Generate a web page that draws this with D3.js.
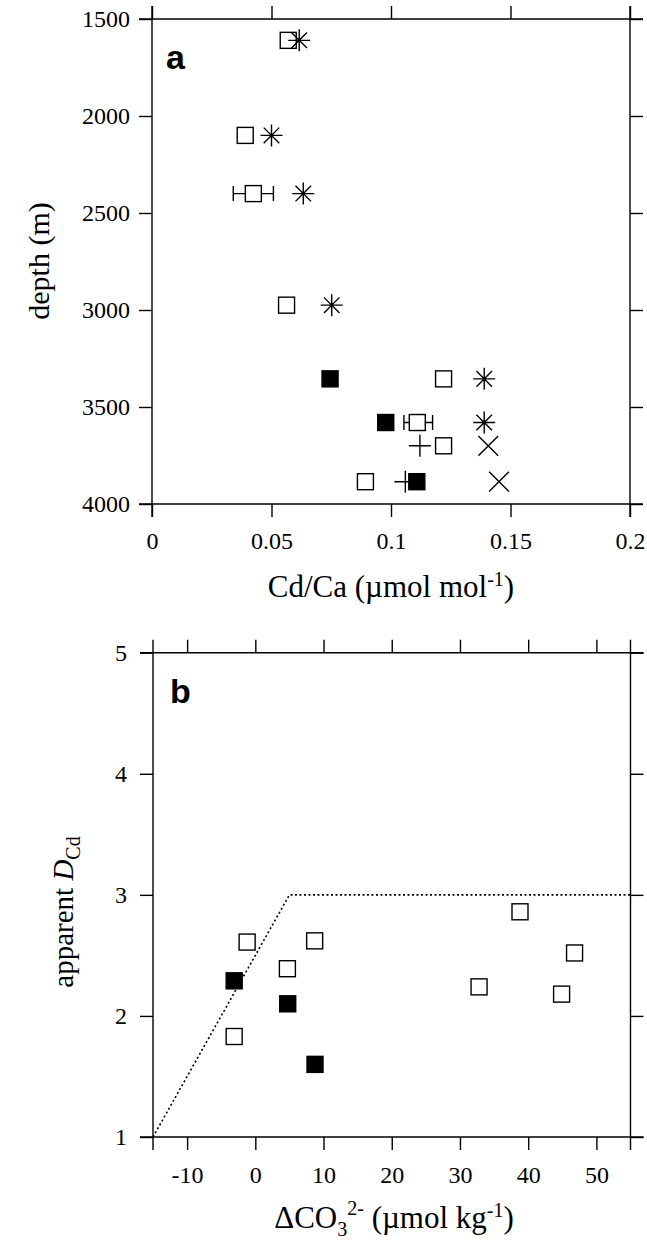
<html>
<head>
<meta charset="utf-8">
<script src="https://d3js.org/d3.v7.min.js"></script>
<style>
  body { margin:0; background:#fff; }
  text { font-family:"Liberation Serif","Times New Roman",serif; fill:#000; }
  .tick text { font-family:"Liberation Serif","Times New Roman",serif !important; }
</style>
</head>
<body>
<svg width="647" height="1241"></svg>
<script>
// ---- panel a : Cd/Ca vs depth ----
var aXTicks = [0, 0.05, 0.1, 0.15, 0.2];
var aXLabels = ["0", "0.05", "0.1", "0.15", "0.2"];
var aYTicks = [1500, 2000, 2500, 3000, 3500, 4000];
var aOpen = [[0.057,1610],[0.039,2100],[0.0424,2400],[0.0563,2975],[0.122,3355],[0.111,3580],[0.122,3700],[0.0893,3885]];
var aOpenErr = [[0.034,0.0508,2400],[0.1054,0.1174,3580]];
var aFilled = [[0.0745,3355],[0.0978,3580],[0.1108,3885]];
var aStar = [[0.0616,1610],[0.050,2100],[0.0633,2400],[0.0752,2975],[0.139,3355],[0.139,3580]];
var aCross = [[0.1407,3700],[0.1452,3885]];
var aPlus = [[0.1121,3700],[0.106,3885]];

// ---- panel b : apparent D vs delta CO3 ----
var bXTicks = [-10, 0, 10, 20, 30, 40, 50];
var bYTicks = [1, 2, 3, 4, 5];
var bOpen = [[-1.2,2.61],[8.7,2.62],[4.7,2.39],[-3.1,1.83],[38.8,2.86],[46.8,2.52],[32.8,2.24],[44.9,2.18]];
var bFilled = [[-3.1,2.29],[4.75,2.10],[8.75,1.60]];
var bLine = [[-15,1],[5,3],[55,3]];

var svg = d3.select("svg");
var TK = 13;
var SERIF = "Liberation Serif, Times New Roman, serif";
var plain = d => String(d);   // hyphen minus, as in the original

function frame(g, x0, x1, y0, y1) {
  var lines = [[x0-TK,y0,x1+TK,y0],[x0-TK,y1,x1+TK,y1],[x0,y0-TK,x0,y1+TK],[x1,y0-TK,x1,y1+TK]];
  g.selectAll("line.fr").data(lines).enter().append("line")
    .attr("x1", d => d[0]).attr("y1", d => d[1]).attr("x2", d => d[2]).attr("y2", d => d[3])
    .attr("stroke", "#000").attr("stroke-width", 1.4);
}

function styleAxis(sel, fs) {
  sel.attr("font-family", SERIF).attr("font-size", fs);
  sel.select(".domain").remove();
  sel.selectAll(".tick line").attr("stroke", "#000").attr("stroke-width", 1.4);
  sel.selectAll(".tick text").attr("font-family", SERIF).attr("font-size", fs)
    .style("font-size", fs + "px").attr("fill", "#000");
}

function squares(g, data, x, y, filled) {
  g.selectAll(null).data(data).enter().append("rect")
    .attr("x", d => x(d[0]) - 8).attr("y", d => y(d[1]) - 8)
    .attr("width", 16).attr("height", 16)
    .attr("fill", filled ? "#000" : "#fff")
    .attr("stroke", "#000").attr("stroke-width", 1.4);
}

function glyph(g, data, x, y, angles, r) {
  var p = d3.path();
  data.forEach(function(d) {
    var cx = x(d[0]), cy = y(d[1]);
    angles.forEach(function(a) {
      var t = a * Math.PI / 180;
      p.moveTo(cx - r*Math.cos(t), cy - r*Math.sin(t));
      p.lineTo(cx + r*Math.cos(t), cy + r*Math.sin(t));
    });
  });
  g.append("path").attr("d", p.toString()).attr("fill", "none")
    .attr("stroke", "#000").attr("stroke-width", 1.4);
}

// ===== panel a =====
var xa = d3.scaleLinear().domain([0, 0.2]).range([152, 630]);
var ya = d3.scaleLinear().domain([1500, 4000]).range([19, 504]);
var ga = svg.append("g");

ga.append("g").attr("transform", "translate(0,504)")
  .call(d3.axisBottom(xa).tickValues(aXTicks).tickSize(TK).tickPadding(15)
    .tickFormat((d, i) => aXLabels[i]))
  .call(styleAxis, 24);
ga.append("g").attr("transform", "translate(0,19)")
  .call(d3.axisTop(xa).tickValues(aXTicks).tickSize(TK).tickFormat(""))
  .call(styleAxis, 24);
ga.append("g").attr("transform", "translate(152,0)")
  .call(d3.axisLeft(ya).tickValues(aYTicks).tickSize(TK).tickPadding(9).tickFormat(plain))
  .call(styleAxis, 24);
ga.append("g").attr("transform", "translate(630,0)")
  .call(d3.axisRight(ya).tickValues(aYTicks).tickSize(TK).tickFormat(""))
  .call(styleAxis, 24);
frame(ga, 152, 630, 19, 504);

// error bars
var ep = d3.path();
aOpenErr.forEach(function(d) {
  var y = ya(d[2]);
  ep.moveTo(xa(d[0]), y); ep.lineTo(xa(d[1]), y);
  ep.moveTo(xa(d[0]), y - 7.5); ep.lineTo(xa(d[0]), y + 7.5);
  ep.moveTo(xa(d[1]), y - 7.5); ep.lineTo(xa(d[1]), y + 7.5);
});
ga.append("path").attr("d", ep.toString()).attr("stroke", "#000").attr("stroke-width", 1.4).attr("fill", "none");

glyph(ga, aPlus, xa, ya, [0, 90], 11);
squares(ga, aOpen, xa, ya, false);
squares(ga, aFilled, xa, ya, true);
glyph(ga, aStar, xa, ya, [0, 90, 45, 135], 11);
glyph(ga, aCross, xa, ya, [45, 135], 14);

ga.append("text").attr("x", 166).attr("y", 69).text("a")
  .style("font-family", "'Liberation Sans',Arial,sans-serif").style("font-weight", "bold").style("font-size", "34px");

ga.append("text").attr("x", 391).attr("y", 597).attr("text-anchor", "middle").style("font-size", "31px")
  .call(t => {
    t.append("tspan").text("Cd/Ca (\u00b5mol mol");
    t.append("tspan").attr("dy", -11).style("font-size", "20px").text("-1");
    t.append("tspan").attr("dy", 11).text(")");
  });
ga.append("text").attr("transform", "translate(49,261) rotate(-90)").attr("text-anchor", "middle")
  .style("font-size", "30px").text("depth (m)");

// ===== panel b =====
var xb = d3.scaleLinear().domain([-15, 55]).range([153, 630.5]);
var yb = d3.scaleLinear().domain([1, 5]).range([1137, 652.7]);
var gb = svg.append("g");

gb.append("g").attr("transform", "translate(0,1137)")
  .call(d3.axisBottom(xb).tickValues(bXTicks).tickSize(TK).tickPadding(16).tickFormat(plain))
  .call(styleAxis, 24);
gb.append("g").attr("transform", "translate(0,652.7)")
  .call(d3.axisTop(xb).tickValues(bXTicks).tickSize(TK).tickFormat(""))
  .call(styleAxis, 24);
gb.append("g").attr("transform", "translate(153,0)")
  .call(d3.axisLeft(yb).tickValues(bYTicks).tickSize(TK).tickPadding(13).tickFormat(plain))
  .call(styleAxis, 24);
gb.append("g").attr("transform", "translate(630.5,0)")
  .call(d3.axisRight(yb).tickValues(bYTicks).tickSize(TK).tickFormat(""))
  .call(styleAxis, 24);
frame(gb, 153, 630.5, 652.7, 1137);

gb.append("path").datum(bLine)
  .attr("d", d3.line().x(d => xb(d[0])).y(d => yb(d[1])))
  .attr("fill", "none").attr("stroke", "#000").attr("stroke-width", 1.6).attr("stroke-dasharray", "2,2.5");

squares(gb, bOpen, xb, yb, false);
squares(gb, bFilled, xb, yb, true);

gb.append("text").attr("x", 170).attr("y", 703).text("b")
  .style("font-family", "'Liberation Sans',Arial,sans-serif").style("font-weight", "bold").style("font-size", "34px");

gb.append("text").attr("x", 394).attr("y", 1228).attr("text-anchor", "middle").style("font-size", "31px")
  .call(t => {
    t.append("tspan").text("\u0394CO");
    t.append("tspan").attr("dy", 8).style("font-size", "20px").text("3");
    t.append("tspan").attr("dy", -21).style("font-size", "20px").text("2-");
    t.append("tspan").attr("dy", 13).text(" (\u00b5mol kg");
    t.append("tspan").attr("dy", -11).style("font-size", "20px").text("-1");
    t.append("tspan").attr("dy", 11).text(")");
  });
gb.append("text").attr("transform", "translate(73,912) rotate(-90)").attr("text-anchor", "middle")
  .style("font-size", "29px")
  .call(t => {
    t.append("tspan").text("apparent ");
    t.append("tspan").style("font-style", "italic").text("D");
    t.append("tspan").attr("dy", 7).style("font-size", "20px").text("Cd");
  });
</script>
</body>
</html>
